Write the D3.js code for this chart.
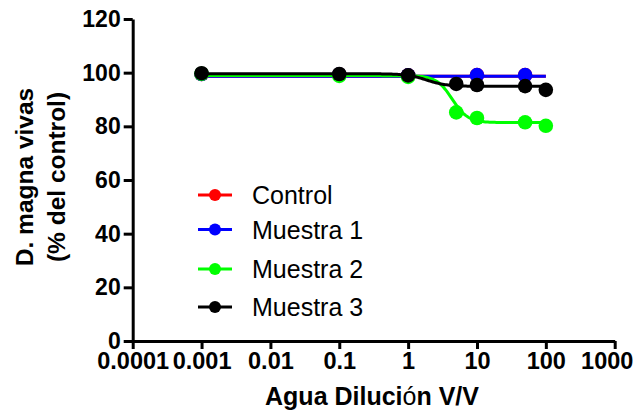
<!DOCTYPE html>
<html>
<head>
<meta charset="utf-8">
<script src="https://cdn.jsdelivr.net/npm/d3@7"></script>
<style>
  body { margin: 0; background: #fff; }
  text { font-family: "Liberation Sans", Arial, sans-serif; }
</style>
</head>
<body>
<div id="chart"></div>
<script>
const width = 639;
const height = 419;

// data
const seriesNames = ["Control", "Muestra 1", "Muestra 2", "Muestra 3"];
const seriesColors = ["#ff0000", "#0000ff", "#00ff00", "#000000"];

const controlX = [0.001, 0.1, 1, 10, 50];
const controlY = [99.5, 99.3, 99.0, 99.1, 99.1];
const muestra1X = [0.001, 0.1, 1, 10, 50];
const muestra1Y = [99.5, 99.3, 99.0, 99.1, 99.1];
const muestra2X = [0.001, 0.1, 1, 5, 10, 50, 100];
const muestra2Y = [99.6, 98.8, 98.4, 85.2, 83.1, 81.5, 80.2];
const muestra3X = [0.001, 0.1, 1, 5, 10, 50, 100];
const muestra3Y = [99.8, 99.5, 99.0, 95.8, 95.4, 95.0, 93.6];

// fitted sigmoid parameters per series: top, bottom, logEC50, hill slope
const fitTop = [98.7, 98.7, 98.9, 99.6];
const fitBottom = [98.7, 98.7, 81.4, 94.9];
const fitLogEC50 = [0.5, 0.5, 0.64, 0.27];
const fitHill = [1, 1, 3.8, 3];

const xTicks = [0.0001, 0.001, 0.01, 0.1, 1, 10, 100, 1000];
const xTickLabels = ["0.0001", "0.001", "0.01", "0.1", "1", "10", "100", "1000"];
const yTicks = [0, 20, 40, 60, 80, 100, 120];

const seriesX = [controlX, muestra1X, muestra2X, muestra3X];
const seriesY = [controlY, muestra1Y, muestra2Y, muestra3Y];

const svg = d3.select('#chart')
  .append('svg')
  .attr('width', width)
  .attr('height', height);

const x = d3.scaleLog()
  .domain([1e-4, 1e3])
  .range([132.7, 614.7]);

const y = d3.scaleLinear()
  .domain([0, 120])
  .range([341, 19]);

// axes
const xAxis = svg.append("g")
  .attr("transform", "translate(0,341)")
  .call(d3.axisBottom(x)
    .tickValues(xTicks)
    .tickFormat((d, i) => xTickLabels[i])
    .tickSize(8)
    .tickSizeOuter(0)
    .tickPadding(3));

const yAxis = svg.append("g")
  .attr("transform", "translate(132.7,0)")
  .call(d3.axisLeft(y)
    .tickValues(yTicks)
    .tickSize(9)
    .tickSizeOuter(0)
    .tickPadding(3));

[xAxis, yAxis].forEach(g => {
  g.selectAll("path, line")
    .attr("stroke", "#000")
    .attr("stroke-width", 3);
  g.selectAll("text")
    .attr("fill", "#000")
    .style("font-weight", "bold");
});
xAxis.selectAll("text").style("font-size", "23.5px");
yAxis.selectAll("text").style("font-size", "23px");
// last label pulled inside the page, as in the original
xAxis.selectAll(".tick text").filter(d => d === 1000).attr("dx", -8);

// axis titles
const xTitle = svg.append("text")
  .attr("x", 372)
  .attr("y", 405)
  .attr("text-anchor", "middle")
  .style("font-size", "25px")
  .style("font-weight", "bold");
xTitle.append("tspan").text("Agua Dilución".slice(0, 11));
xTitle.append("tspan").style("font-weight", "normal").text("ó");
xTitle.append("tspan").text("n V/V");

const yTitle = svg.append("g")
  .attr("transform", "translate(0,177) rotate(-90)");
yTitle.append("text")
  .attr("x", 0)
  .attr("y", 33)
  .attr("text-anchor", "middle")
  .style("font-size", "24.5px")
  .style("font-weight", "bold")
  .text("D. magna vivas");
yTitle.append("text")
  .attr("x", 0)
  .attr("y", 65)
  .attr("text-anchor", "middle")
  .style("font-size", "24.5px")
  .style("font-weight", "bold")
  .text("(% del control)");

// fitted curves + points
const logGrid = d3.range(-3, 2.0001, 0.02);
const line = d3.line()
  .x(d => x(Math.pow(10, d[0])))
  .y(d => y(d[1]));

seriesNames.forEach((name, s) => {
  const fit = logGrid.map(lx => [lx,
    fitBottom[s] + (fitTop[s] - fitBottom[s]) /
      (1 + Math.pow(10, (lx - fitLogEC50[s]) * fitHill[s]))]);

  const g = svg.append("g").attr("class", "series");

  g.append("path")
    .datum(fit)
    .attr("fill", "none")
    .attr("stroke", seriesColors[s])
    .attr("stroke-width", 3)
    .attr("d", line);

  g.selectAll("circle")
    .data(seriesX[s].map((v, i) => [v, seriesY[s][i]]))
    .enter()
    .append("circle")
    .attr("cx", d => x(d[0]))
    .attr("cy", d => y(d[1]))
    .attr("r", 7.3)
    .attr("fill", seriesColors[s]);
});

// legend
const legendY = [195, 229.5, 269, 307];
const legend = svg.selectAll(".legend")
  .data(seriesNames)
  .enter()
  .append("g")
  .attr("class", "legend")
  .attr("transform", (d, i) => "translate(0," + legendY[i] + ")");

legend.append("line")
  .attr("x1", 198)
  .attr("x2", 232)
  .attr("stroke", (d, i) => seriesColors[i])
  .attr("stroke-width", 3);

legend.append("circle")
  .attr("cx", 215)
  .attr("r", 6)
  .attr("fill", (d, i) => seriesColors[i]);

legend.append("text")
  .attr("x", 252)
  .attr("y", 0)
  .attr("dy", "0.36em")
  .style("font-size", "25px")
  .text(d => d);
</script>
</body>
</html>
